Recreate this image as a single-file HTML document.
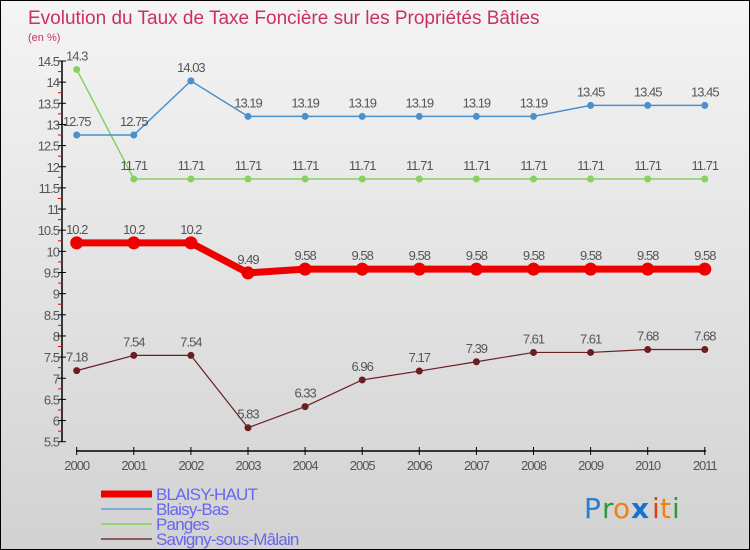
<!DOCTYPE html>
<html><head><meta charset="utf-8"><style>
body{margin:0;}
#c{width:750px;height:550px;position:relative;overflow:hidden;box-sizing:border-box;border:1px solid #000;background:linear-gradient(#f4f4f4,#d2d2d2);font-family:"Liberation Sans",sans-serif;}
</style></head><body>
<div id="c">
<svg id="s" width="750" height="550" xmlns="http://www.w3.org/2000/svg">
<text x="27" y="23" font-size="19" fill="#c8306a">Evolution du Taux de Taxe Foncière sur les Propriétés Bâties</text>
<text x="27" y="40" font-size="11" fill="#c8306a">(en %)</text>
<g id="axes"></g><g id="series"></g><g id="legend"></g>
<g font-size="28" font-family="'DejaVu Sans',sans-serif">
<text x="583" y="517" fill="#2a7fd4">P</text><text x="601" y="517" fill="#2e9a3a">r</text><text x="612" y="517" fill="#f08010">o</text><text x="630" y="517" fill="#1a70d0" font-weight="bold">x</text><text x="651" y="517" fill="#e04010">i</text><text x="659" y="517" fill="#f08010">t</text><text x="671" y="517" fill="#2e9a3a">i</text>
</g>
</svg></div>
<script>
const years=["2000","2001","2002","2003","2004","2005","2006","2007","2008","2009","2010","2011"];
const blaisyHaut=[10.2,10.2,10.2,9.49,9.58,9.58,9.58,9.58,9.58,9.58,9.58,9.58];
const blaisyBas=[12.75,12.75,14.03,13.19,13.19,13.19,13.19,13.19,13.19,13.45,13.45,13.45];
const panges=[14.3,11.71,11.71,11.71,11.71,11.71,11.71,11.71,11.71,11.71,11.71,11.71];
const savigny=[7.18,7.54,7.54,5.83,6.33,6.96,7.17,7.39,7.61,7.61,7.68,7.68];
const yTicks=["5.5","6","6.5","7","7.5","8","8.5","9","9.5","10","10.5","11","11.5","12","12.5","13","13.5","14","14.5"];
const NS="http://www.w3.org/2000/svg";
const x=i=>75.7+i*57.1;
const y=v=>440.7-(v-5.5)*42.3;
function mk(tag,attrs,parent,txt){const e=document.createElementNS(NS,tag);for(const k in attrs)e.setAttribute(k,attrs[k]);if(txt!=null)e.textContent=txt;parent.appendChild(e);return e;}
const ax=document.getElementById('axes');
let e=mk('line',{x1:61,y1:y(14.5),x2:61,y2:y(5.5),stroke:'#000','stroke-width':1.5},ax);

e=mk('line',{x1:75,y1:450,x2:705,y2:450,stroke:'#000','stroke-width':1.5},ax);

yTicks.forEach((t,i)=>{const v=parseFloat(t);
 mk('line',{x1:57,y1:y(v),x2:65,y2:y(v),stroke:'#000'},ax);
 e=mk('text',{x:58,y:y(v)+5,'font-size':13,fill:'#555','text-anchor':'end','letter-spacing':'-1'},ax,t);
 
 if(i<yTicks.length-1)mk('line',{x1:57,y1:y(v+0.25),x2:61,y2:y(v+0.25),stroke:'#e00'},ax);
});
years.forEach((t,i)=>{mk('line',{x1:x(i),y1:446,x2:x(i),y2:454,stroke:'#000'},ax);
 e=mk('text',{x:x(i),y:469,'font-size':13,fill:'#555','text-anchor':'middle','letter-spacing':'-1'},ax,t);
 });
const sg=document.getElementById('series');
function series(name,vals,color,w,r){const g=mk('g',{},sg);
 
 mk('polyline',{points:vals.map((v,i)=>x(i)+','+y(v)).join(' '),fill:'none',stroke:color,'stroke-width':w},g);
 vals.forEach((v,i)=>{e=mk('circle',{cx:x(i),cy:y(v),r:r,fill:color},g);
  
  e=mk('text',{x:x(i),y:y(v)-9,'font-size':13,fill:'#555','text-anchor':'middle','letter-spacing':'-1'},g,String(v));
  });}
series('savigny',savigny,'#6b1e22',1.2,3.5);
series('panges',panges,'#88d060',1.5,3.5);
series('blaisy-bas',blaisyBas,'#4a90cc',1.5,3.5);
series('blaisy-haut',blaisyHaut,'#ee0000',7,6.5);
const lg=document.getElementById('legend');
const leg=[["BLAISY-HAUT","#ee0000",7],["Blaisy-Bas","#7aaed6",2],["Panges","#99d477",2],["Savigny-sous-Mâlain","#8a5c5c",2]];
leg.forEach((l,i)=>{const yy=493+i*15;const g=mk('g',{},lg);
 
 mk('line',{x1:100,y1:yy,x2:151,y2:yy,stroke:l[1],'stroke-width':l[2]},g);
 mk('text',{x:155,y:yy+6,'font-size':17,fill:'#6666ee','letter-spacing':'-0.8'},g,l[0]);});
</script></body></html>
